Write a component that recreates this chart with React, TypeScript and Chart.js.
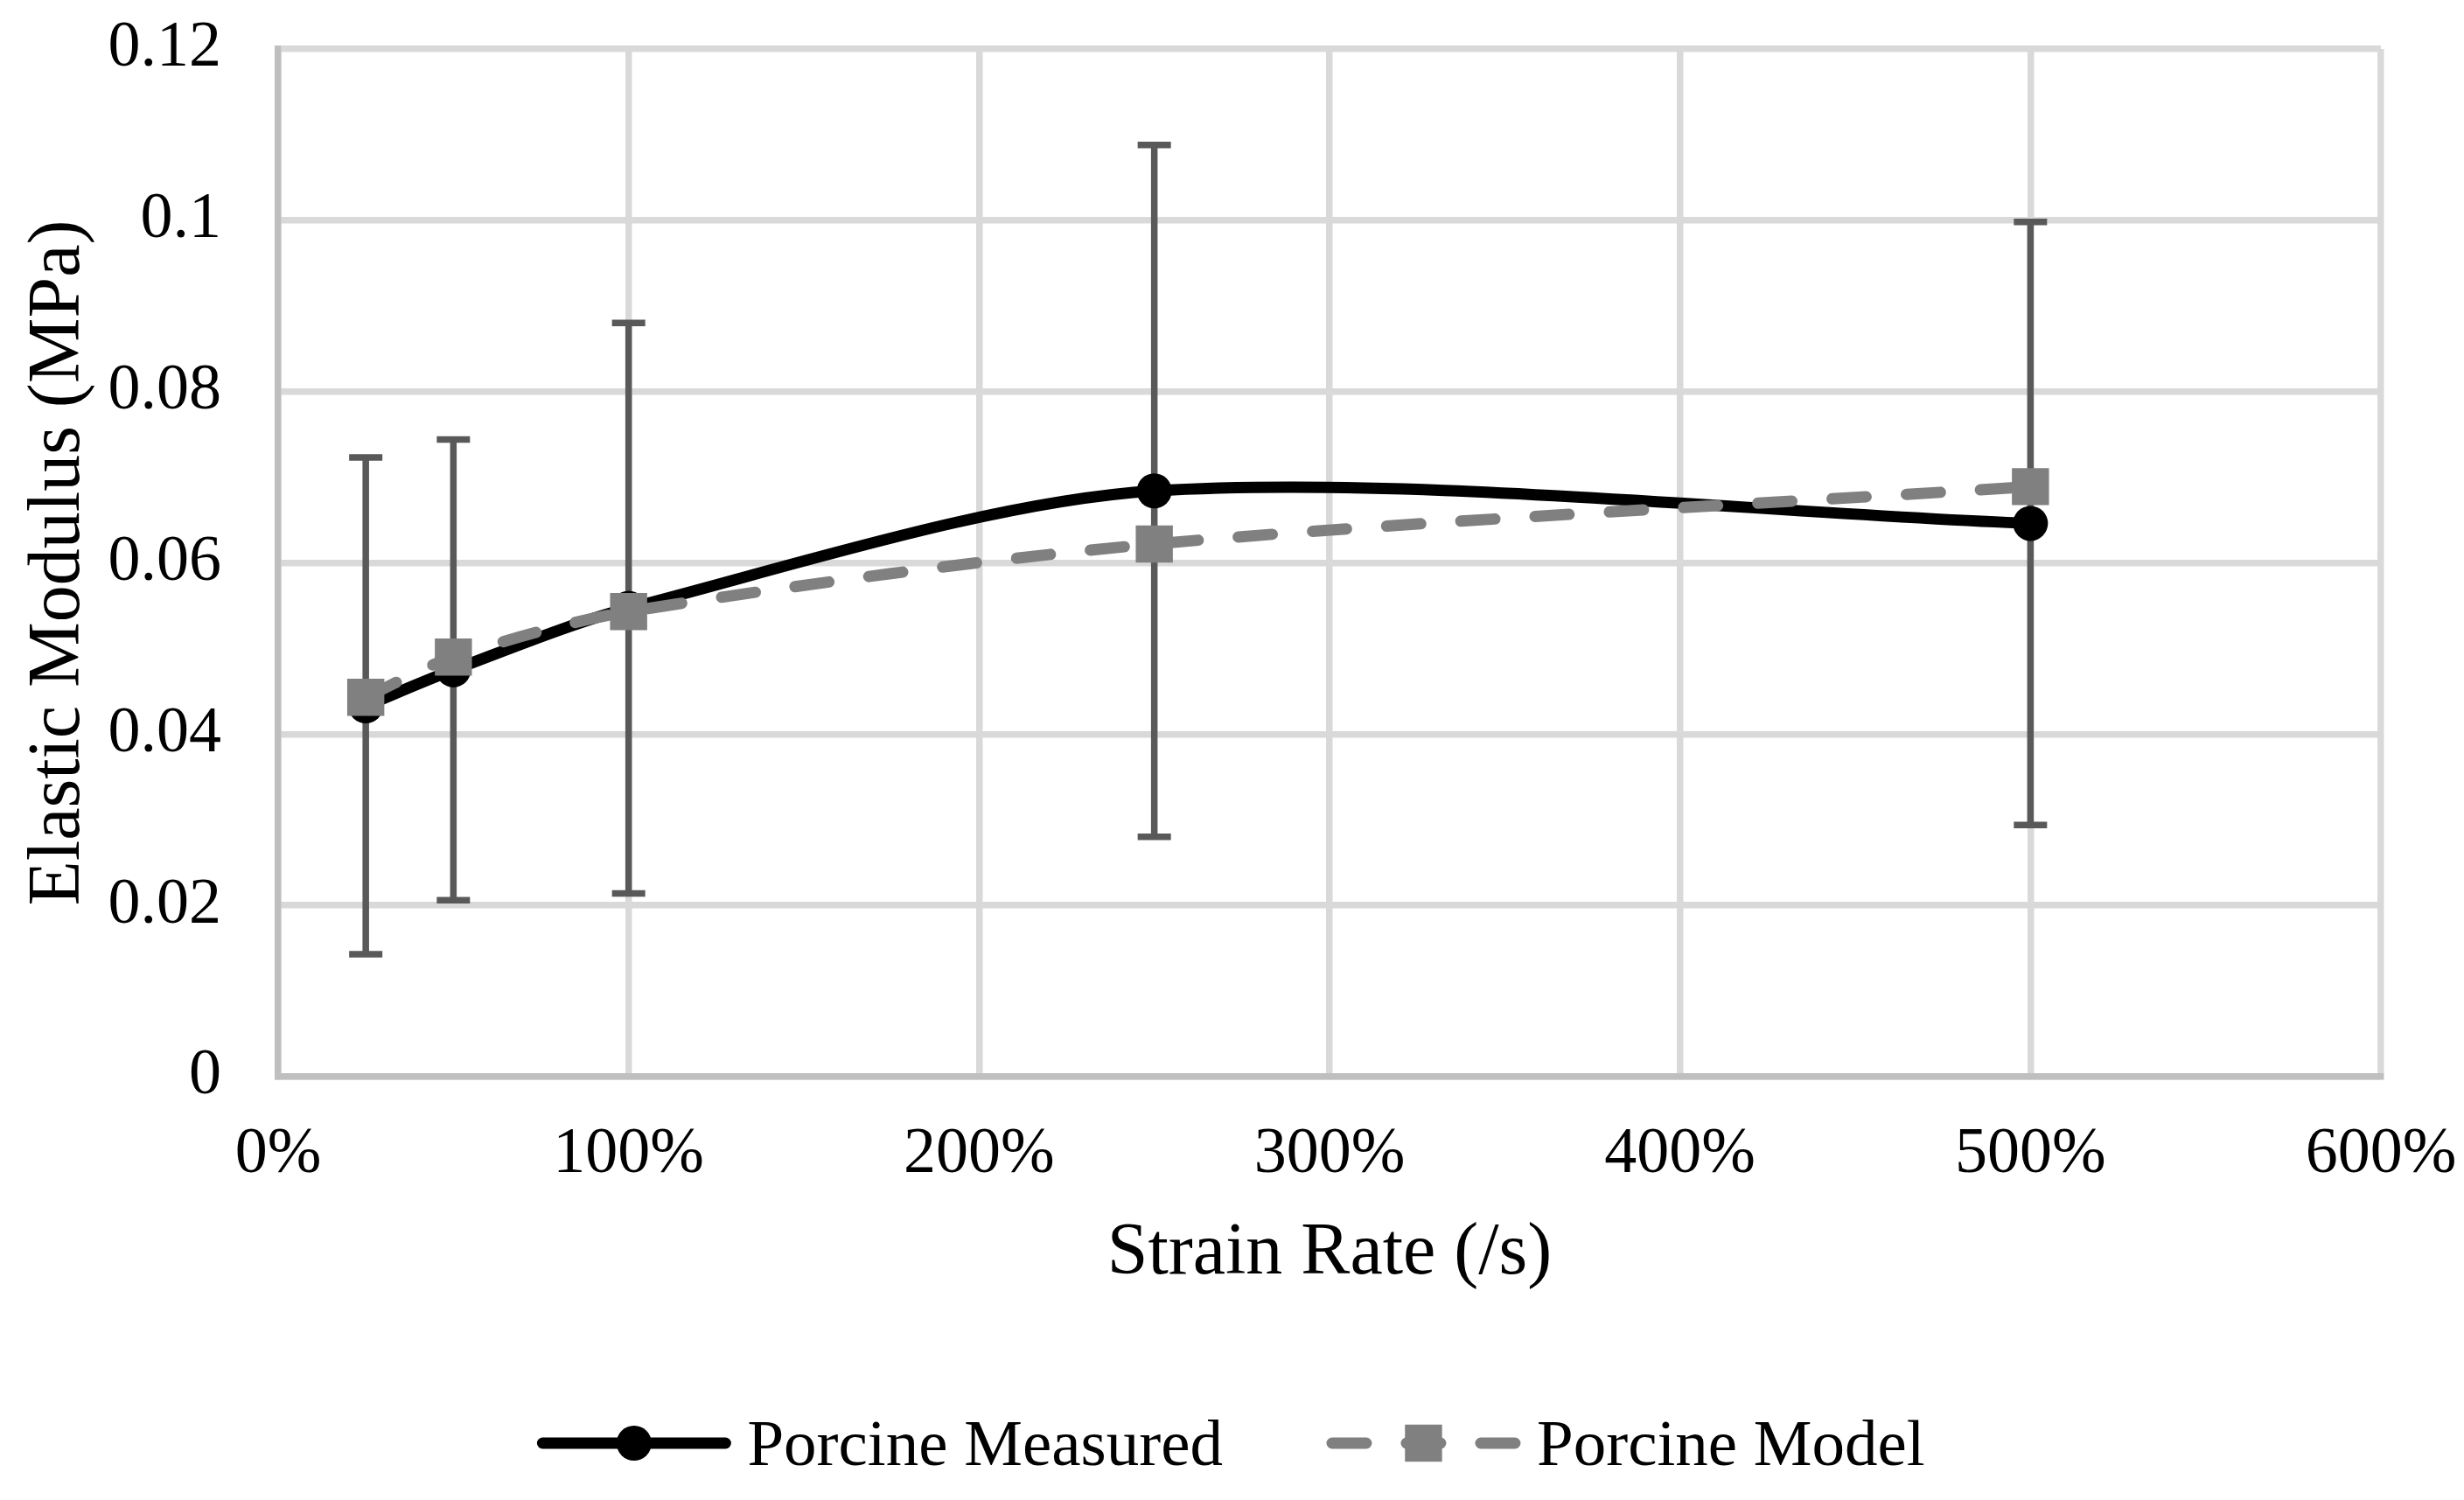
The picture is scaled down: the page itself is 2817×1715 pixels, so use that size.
import React, { useEffect, useRef } from 'react';
import { Chart, registerables } from 'chart.js';

Chart.register(...registerables);

// ---- data ----
const strainRates = [25, 50, 100, 250, 500]; // percent
const measured = [0.0433, 0.0475, 0.0547, 0.0684, 0.0646];
const model = [0.0443, 0.049, 0.0543, 0.0622, 0.0689];
const measuredSD = [0.029, 0.0269, 0.0333, 0.0404, 0.0352];
const seriesNames = ['Porcine Measured', 'Porcine Model'];
const xTitle = 'Strain Rate (/s)';
const yTitle = 'Elastic Modulus (MPa)';

const FONT = "'Liberation Serif', 'Times New Roman', serif";
const W = 2817;
const H = 1715;

const errorBarPlugin = {
  id: 'errorBars',
  beforeDatasetsDraw(chart: any) {
    const { ctx } = chart;
    const x = chart.scales.x;
    const y = chart.scales.y;
    ctx.save();
    ctx.strokeStyle = '#595959';
    ctx.lineWidth = 7.5;
    ctx.lineCap = 'butt';
    strainRates.forEach((r, i) => {
      const px = x.getPixelForValue(r);
      const top = y.getPixelForValue(measured[i] + measuredSD[i]);
      const bot = y.getPixelForValue(measured[i] - measuredSD[i]);
      ctx.beginPath();
      ctx.moveTo(px, top);
      ctx.lineTo(px, bot);
      ctx.moveTo(px - 19, top);
      ctx.lineTo(px + 19, top);
      ctx.moveTo(px - 19, bot);
      ctx.lineTo(px + 19, bot);
      ctx.stroke();
    });
    ctx.restore();
  },
};

const legendPlugin = {
  id: 'excelLegend',
  afterDraw(chart: any) {
    const { ctx } = chart;
    ctx.save();
    ctx.font = `75px ${FONT}`;
    const sampleW = 217;
    const textGap = 21;
    const itemGap = 121;
    const items = chart.data.datasets.map((ds: any) => ({ ds, tw: ctx.measureText(ds.label).width }));
    const total =
      items.reduce((s: number, it: any) => s + sampleW + textGap + it.tw, 0) + itemGap * (items.length - 1);
    let x = chart.width / 2 - total / 2;
    const cy = 1650;
    items.forEach(({ ds, tw }: any) => {
      ctx.save();
      ctx.strokeStyle = ds.borderColor;
      ctx.lineWidth = ds.borderWidth;
      ctx.lineCap = 'round';
      ctx.setLineDash(ds.borderDash || []);
      ctx.beginPath();
      ctx.moveTo(x + 4, cy);
      ctx.lineTo(x + 213, cy);
      ctx.stroke();
      ctx.restore();
      const mx = x + 108.5;
      ctx.fillStyle = ds.pointBackgroundColor;
      if (ds.pointStyle === 'rect') {
        const s = ds.pointRadius * Math.SQRT1_2;
        ctx.fillRect(mx - s, cy - s, 2 * s, 2 * s);
      } else {
        ctx.beginPath();
        ctx.arc(mx, cy, ds.pointRadius, 0, Math.PI * 2);
        ctx.fill();
      }
      ctx.fillStyle = '#000';
      ctx.textAlign = 'left';
      ctx.textBaseline = 'alphabetic';
      ctx.fillText(ds.label, x + sampleW + textGap, cy + 25);
      x += sampleW + textGap + tw + itemGap;
    });
    ctx.restore();
  },
};

export default function App() {
  const ref = useRef<HTMLCanvasElement | null>(null);

  useEffect(() => {
    if (!ref.current) return;
    const chart = new Chart(ref.current, {
      type: 'line',
      data: {
        datasets: [
          {
            label: seriesNames[0],
            data: strainRates.map((r, i) => ({ x: r, y: measured[i] })),
            borderColor: '#000000',
            backgroundColor: '#000000',
            borderWidth: 13,
            pointStyle: 'circle',
            pointRadius: 20,
            pointHoverRadius: 20,
            pointBackgroundColor: '#000000',
            pointBorderWidth: 0,
            tension: 0.3,
            fill: false,
            order: 2,
          } as any,
          {
            label: seriesNames[1],
            data: strainRates.map((r, i) => ({ x: r, y: model[i] })),
            borderColor: '#808080',
            backgroundColor: '#808080',
            borderWidth: 13,
            borderDash: [39, 46],
            borderCapStyle: 'round',
            pointStyle: 'rect',
            pointRadius: 30,
            pointHoverRadius: 30,
            pointBackgroundColor: '#808080',
            pointBorderWidth: 0,
            tension: 0.3,
            fill: false,
            order: 1,
          } as any,
        ],
      },
      options: {
        animation: false,
        responsive: false,
        devicePixelRatio: 1,
        layout: { padding: { left: 0, top: 56, right: 95, bottom: 214 } },
        plugins: {
          legend: { display: false },
          tooltip: { enabled: false },
        },
        scales: {
          x: {
            type: 'linear',
            min: 0,
            max: 600,
            afterFit: (s: any) => {
              s.height = 270;
              s.paddingLeft = 0;
              s.paddingRight = 0;
            },
            ticks: {
              stepSize: 100,
              padding: 45,
              color: '#000',
              font: { family: FONT, size: 74, lineHeight: 1.2 },
              maxRotation: 0,
              callback: (v: any) => `${v}%`,
            },
            grid: { color: '#d9d9d9', lineWidth: 7.5, drawTicks: false },
            border: { color: '#bfbfbf', width: 7.5 },
            title: {
              display: true,
              text: xTitle,
              color: '#000',
              font: { family: FONT, size: 84, lineHeight: 1.2 },
              padding: { top: 0, bottom: 17 },
            },
          },
          y: {
            type: 'linear',
            min: 0,
            max: 0.12,
            afterFit: (s: any) => {
              s.width = 318;
              s.paddingTop = 0;
              s.paddingBottom = 0;
            },
            ticks: {
              stepSize: 0.02,
              padding: 65,
              color: '#000',
              font: { family: FONT, size: 74, lineHeight: 1.2 },
              callback: (v: any) => String(Number(Number(v).toFixed(4))),
            },
            grid: { color: '#d9d9d9', lineWidth: 7.5, drawTicks: false },
            border: { color: '#bfbfbf', width: 7.5 },
            title: {
              display: true,
              text: yTitle,
              color: '#000',
              font: { family: FONT, size: 84, lineHeight: 1.2 },
              padding: { top: 18, bottom: 0 },
            },
          },
        },
      },
      plugins: [errorBarPlugin, legendPlugin],
    });
    return () => chart.destroy();
  }, []);

  return (
    <div style={{ position: 'fixed', left: 0, top: 0, width: W, height: H, background: '#fff' }}>
      <canvas ref={ref} width={W} height={H} style={{ width: W, height: H, display: 'block' }} />
    </div>
  );
}
